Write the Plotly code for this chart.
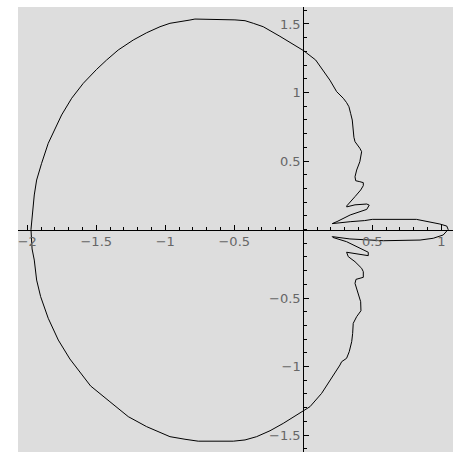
import plotly.graph_objects as go

# Closed curve (x, y)
curve_x = [1.05, 1.04, 0.99, 0.905, 0.82, 0.50, 0.445, 0.34, 0.215, 0.21, 0.245, 0.34, 0.46, 0.478,
           0.46, 0.375, 0.315, 0.315, 0.375, 0.416, 0.435, 0.435, 0.41, 0.38, 0.375, 0.387, 0.41,
           0.423, 0.41, 0.375, 0.367, 0.362, 0.355, 0.343, 0.331, 0.314, 0.29, 0.242, 0.193, 0.09,
           0.003, -0.169, -0.29, -0.362, -0.422, -0.495, -0.785, -0.821, -0.881, -0.966, -1.038,
           -1.135, -1.232, -1.341, -1.425, -1.497, -1.594, -1.678, -1.751, -1.812, -1.848, -1.896,
           -1.932, -1.949, -1.96, -1.973,
           -1.965, -1.949, -1.932, -1.903, -1.848, -1.775, -1.691, -1.618, -1.541, -1.401, -1.268,
           -1.135, -0.966, -0.857, -0.761, -0.507, -0.422, -0.338, -0.241, -0.145, -0.024, 0.003,
           0.049, 0.133, 0.206, 0.266, 0.278, 0.314, 0.333, 0.351, 0.358, 0.362, 0.387, 0.418,
           0.416, 0.399, 0.375, 0.382, 0.435, 0.435, 0.423, 0.375, 0.326, 0.314, 0.399, 0.471,
           0.471, 0.314, 0.215, 0.21, 0.338, 0.483, 0.58, 0.846, 0.942, 1.014, 1.039, 1.05]
curve_y = [0.0, 0.025, 0.04, 0.055, 0.074, 0.074, 0.065, 0.057, 0.048, 0.043, 0.058, 0.106, 0.147,
           0.178, 0.186, 0.18, 0.165, 0.172, 0.24, 0.288, 0.32, 0.342, 0.349, 0.356, 0.385, 0.434,
           0.495, 0.568, 0.593, 0.641, 0.673, 0.726, 0.799, 0.848, 0.896, 0.926, 0.958, 1.006, 1.09,
           1.237, 1.305, 1.41, 1.48, 1.505, 1.524, 1.53, 1.536, 1.529, 1.517, 1.505, 1.48, 1.436,
           1.383, 1.31, 1.237, 1.169, 1.067, 0.958, 0.836, 0.702, 0.629, 0.483, 0.361, 0.252, 0.142,
           0.0,
           -0.142, -0.223, -0.369, -0.49, -0.648, -0.807, -0.945, -1.038, -1.142, -1.257, -1.366,
           -1.439, -1.512, -1.531, -1.545, -1.545, -1.536, -1.512, -1.469, -1.415, -1.337, -1.318,
           -1.293, -1.196, -1.086, -0.989, -0.965, -0.94, -0.892, -0.819, -0.758, -0.685, -0.636,
           -0.593, -0.527, -0.478, -0.393, -0.364, -0.349, -0.308, -0.283, -0.235, -0.198, -0.166,
           -0.181, -0.191, -0.166, -0.089, -0.058, -0.052, -0.069, -0.077, -0.082, -0.077, -0.064,
           -0.04, -0.016, 0.0]

x_tick_vals = [-2, -1.5, -1, -0.5, 0.5, 1]
x_tick_text = ["\u22122", "\u22121.5", "\u22121", "\u22120.5", "0.5", "1"]
y_tick_vals = [-1.5, -1, -0.5, 0.5, 1, 1.5]
y_tick_text = ["\u22121.5", "\u22121", "\u22120.5", "0.5", "1", "1.5"]

x_range = [-2.067, 1.085]
y_range = [-1.624, 1.624]

fig = go.Figure()
fig.add_trace(go.Scatter(x=curve_x, y=curve_y, mode="lines",
                         line=dict(color="black", width=1), hoverinfo="skip"))

tickfont = dict(family="DejaVu Sans", size=13, color="#666666")
minor_common = dict(ticks="inside", ticklen=2.5, tickcolor="black", tickwidth=1,
                    tickmode="linear", tick0=0, dtick=0.1, showgrid=False)

fig.update_layout(
    width=455, height=455,
    margin=dict(l=18, r=2, t=7, b=3),
    paper_bgcolor="white",
    plot_bgcolor="#dddddd",
    showlegend=False,
    xaxis=dict(range=x_range, tickmode="array", tickvals=x_tick_vals, ticktext=x_tick_text,
               ticks="inside", ticklen=5, tickcolor="black", tickwidth=1,
               showline=True, linecolor="black", linewidth=1,
               showgrid=False, zeroline=False, anchor="free",
               position=(0 - y_range[0]) / (y_range[1] - y_range[0]),
               tickfont=tickfont, minor=minor_common, fixedrange=True),
    yaxis=dict(range=y_range, tickmode="array", tickvals=y_tick_vals, ticktext=y_tick_text,
               ticks="inside", ticklen=5, tickcolor="black", tickwidth=1,
               showline=True, linecolor="black", linewidth=1,
               showgrid=False, zeroline=False, anchor="free",
               position=(0 - x_range[0]) / (x_range[1] - x_range[0]),
               tickfont=tickfont, minor=minor_common, fixedrange=True),
)

fig.write_html("out.html", config={"displayModeBar": False},
               post_script="document.body.style.margin='0px';document.body.style.overflow='hidden';")
